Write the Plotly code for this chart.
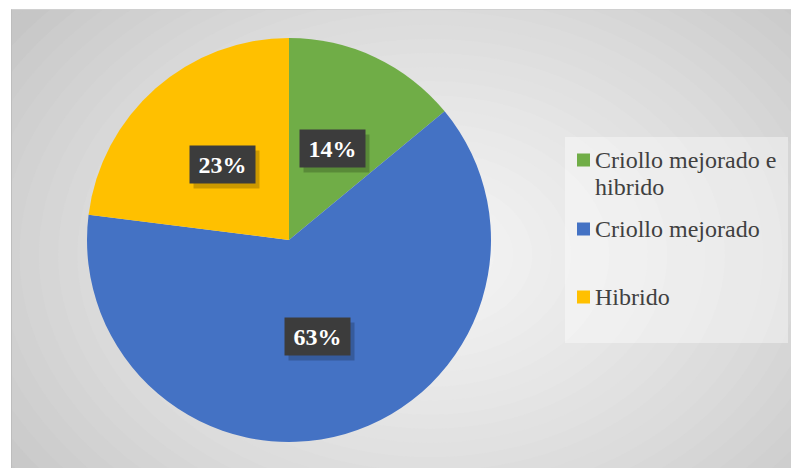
import math
import plotly.graph_objects as go

# ---- data ----
categories = ["Criollo mejorado e hibrido", "Criollo mejorado", "Hibrido"]
legend_text = ["Criollo mejorado e<br>hibrido", "Criollo mejorado", "Hibrido"]
values = [14, 63, 23]
colors = ["#70AD47", "#4472C4", "#FFC000"]

W, H = 791, 468
cx, cy, R = 289, 240, 202  # pie centre / radius in pixels

SERIF = "Liberation Serif"

def px_x(x):
    return x / W

def px_y(y):
    return 1 - y / H

fig = go.Figure()
fig.add_trace(go.Pie(
    labels=categories,
    values=values,
    sort=False,
    direction="clockwise",
    rotation=0,
    marker=dict(colors=colors, line=dict(width=0)),
    textinfo="none",
    hoverinfo="label+percent",
    showlegend=False,
    domain=dict(x=[px_x(cx - R), px_x(cx + R)], y=[px_y(cy + R), px_y(cy - R)]),
))

# background radial gradient built from concentric ellipses
gx, gy = 430, 255
rx_max, ry_max = 520, 380
N = 28
fig.add_shape(type="rect", xref="paper", yref="paper", x0=0, x1=1, y0=0, y1=1,
              fillcolor="#c6c6c6", line=dict(width=0), layer="below")
for k in range(N):
    t = k / (N - 1)            # 0 outer -> 1 inner
    s = 1 - t
    g = int(round(198 + (246 - 198) * (t ** 0.8)))
    fig.add_shape(type="circle", xref="paper", yref="paper",
                  x0=px_x(gx - rx_max * s - 6), x1=px_x(gx + rx_max * s + 6),
                  y0=px_y(gy + ry_max * s + 5), y1=px_y(gy - ry_max * s - 5),
                  fillcolor=f"rgb({g},{g},{g})", line=dict(width=0), layer="below")
# white page margins left/top
fig.add_shape(type="rect", xref="paper", yref="paper", x0=0, x1=px_x(11), y0=0, y1=1,
              fillcolor="white", line=dict(width=0), layer="below")
fig.add_shape(type="rect", xref="paper", yref="paper", x0=0, x1=1, y0=px_y(9), y1=1,
              fillcolor="white", line=dict(width=0), layer="below")
fig.add_shape(type="line", xref="paper", yref="paper", x0=px_x(11.5), x1=px_x(11.5), y0=0, y1=px_y(9),
              line=dict(color="#bdbdbd", width=1), layer="below")
fig.add_shape(type="line", xref="paper", yref="paper", x0=px_x(11.5), x1=1, y0=px_y(9.5), y1=px_y(9.5),
              line=dict(color="#d0d0d0", width=1), layer="below")
# legend box
fig.add_shape(type="rect", xref="paper", yref="paper", x0=px_x(565), x1=px_x(788), y0=px_y(343), y1=px_y(137),
              fillcolor="rgba(255,255,255,0.4)", line=dict(width=0), layer="below")

# percentage labels positioned at slice mid-angles
total = sum(values)
start = 0.0
for v in values:
    mid = (start + v / 2) / total * 2 * math.pi
    start += v
    lx = cx + 0.5 * R * math.sin(mid)
    ly = cy - 0.5 * R * math.cos(mid)
    pct = f"{round(v / total * 100)}%"
    fig.add_annotation(
        x=px_x(lx + 4), y=px_y(ly + 5), xref="paper", yref="paper", text=" ", showarrow=False,
        xanchor="center", yanchor="middle",
        width=65, height=37, bgcolor="rgba(0,0,0,0.2)", borderpad=0,
    )
    fig.add_annotation(
        x=px_x(lx), y=px_y(ly), xref="paper", yref="paper", text=f"<b>{pct}</b>", showarrow=False,
        xanchor="center", yanchor="middle",
        width=65, height=37, bgcolor="#3c3c3c", borderpad=0,
        font=dict(family=SERIF, size=24, color="white"),
    )

# custom legend
legend_y = [160, 229, 297]
for txt, col, yy in zip(legend_text, colors, legend_y):
    fig.add_shape(type="rect", xref="paper", yref="paper",
                  x0=px_x(577), x1=px_x(590), y0=px_y(yy + 6.5), y1=px_y(yy - 6.5),
                  fillcolor=col, line=dict(width=0))
    for i, line in enumerate(txt.split("<br>")):
        fig.add_annotation(
            x=px_x(593), y=px_y(yy + 27 * i), xref="paper", yref="paper", text=line,
            showarrow=False, xanchor="left", yanchor="middle",
            font=dict(family=SERIF, size=24, color="#404040"),
        )

fig.update_layout(
    width=W, height=H,
    margin=dict(l=0, r=0, t=0, b=0),
    paper_bgcolor="white",
    plot_bgcolor="white",
    showlegend=False,
)

fig.write_html("out.html", config={"displayModeBar": False},
               post_script="document.body.style.margin='0';")
